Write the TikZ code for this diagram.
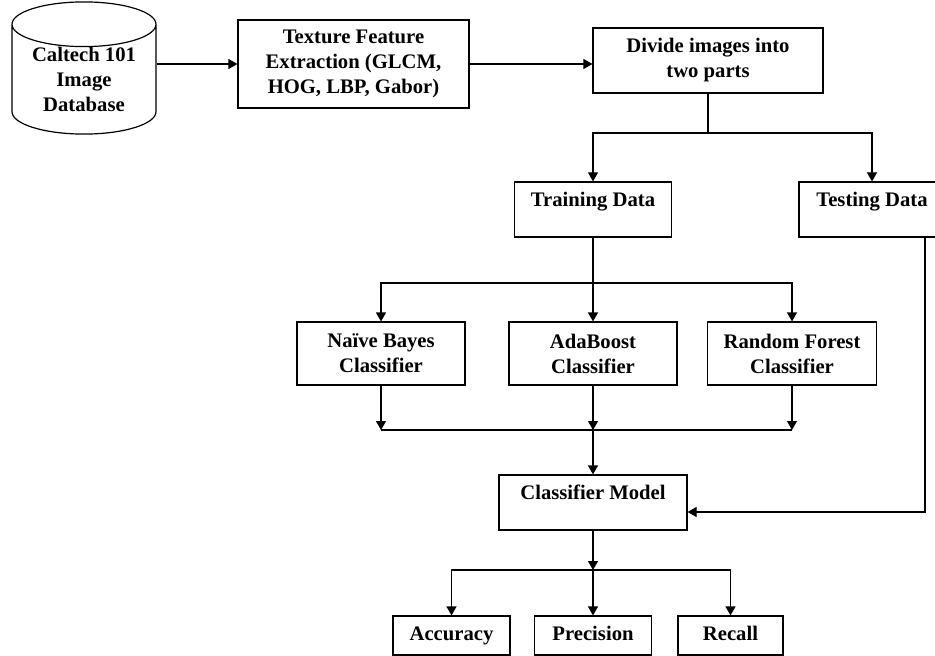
\documentclass[tikz,border=0pt]{standalone}
\usepackage{fontspec}
\setmainfont{Liberation Serif}
\usetikzlibrary{shapes.geometric,arrows.meta,calc}

\begin{document}
\begin{tikzpicture}[x=0.75pt,y=-0.75pt,font=\fontsize{15.5}{18.75}\selectfont\bfseries]
\tikzstyle{db} = [cylinder, shape border rotate=90, aspect=0.43, draw, line width=0.9pt, minimum width=108pt, minimum height=96pt, align=center, inner sep=0pt]
\tikzstyle{box} = [rectangle, draw, line width=0.9pt, align=center, inner sep=0pt]
\tikzstyle{topbox} = [box, text height=18.5pt, text depth=22.75pt]
\tikzstyle{smallbox} = [box, text height=11pt, text depth=3.5pt, minimum height=29.25pt]
\tikzstyle{line} = [line width=0.9pt]
\tikzstyle{arrow} = [line, -{Triangle[length=6.75pt,width=7.5pt]}]

\useasboundingbox (0,0) rectangle (935,656);
\clip (0,0) rectangle (935,656);

\node (db) [db, anchor=shape center] at (84,68) {Caltech 101\\Image\\Database};
\node (feat) [box, minimum width=173.25pt, minimum height=66pt] at (353.5,64) {Texture Feature\\Extraction (GLCM,\\HOG, LBP, Gabor)};
\node (divide) [box, minimum width=172.5pt, minimum height=48.75pt] at (708,60.5) {Divide images into\\two parts};
\node (train) [topbox, minimum width=117.75pt] at (593,209.5) {Training Data};
\node (test) [topbox, minimum width=109.5pt] at (872,209.5) {Testing Data};
\node (nb) [box, minimum width=126pt, minimum height=47.25pt] at (381,353.5) {Naïve Bayes\\Classifier};
\node (ada) [box, minimum width=126pt, minimum height=47.25pt] at (593,353.5) {AdaBoost\\Classifier};
\node (rf) [box, minimum width=126.75pt, minimum height=47.25pt] at (792,353.5) {Random Forest\\Classifier};
\node (cm) [topbox, minimum width=141pt] at (593,502.5) {Classifier Model};
\node (acc) [smallbox, minimum width=87.75pt] at (451.5,635.5) {Accuracy};
\node (prec) [smallbox, minimum width=87.75pt] at (593,635.5) {Precision};
\node (rec) [smallbox, minimum width=78.75pt] at (730.5,635.5) {Recall};

\coordinate (s1) at (divide.south |- 0,133);
\coordinate (s2) at (train.south |- 0,283);
\coordinate (m) at (ada.south |- 0,430);
\coordinate (s3) at (cm.south |- 0,570);

\draw [arrow] (db.east |- feat.west) -- (feat.west);
\draw [arrow] (feat.east) -- (feat.east -| divide.west);
\draw [line] (divide.south) -- (s1);
\draw [arrow] (s1) -| (train.north);
\draw [arrow] (s1) -| (test.north);
\draw [line] (train.south) -- (s2);
\draw [arrow] (s2) -| (nb.north);
\draw [arrow] (s2) -- (ada.north);
\draw [arrow] (s2) -| (rf.north);
\draw [arrow] (nb.south) -- (nb.south |- m);
\draw [arrow] (ada.south) -- (m);
\draw [arrow] (rf.south) -- (rf.south |- m);
\draw [line] (nb.south |- m) -- (rf.south |- m);
\draw [arrow] (m) -- (cm.north);
\draw [arrow] ($(test.south)+(53,0)$) |- ($(cm.east)+(0,9.5)$);
\draw [arrow] (cm.south) -- (s3);
\draw [arrow] (s3) -| (acc.north);
\draw [arrow] (s3) -- (prec.north);
\draw [arrow] (s3) -| (rec.north);

\end{tikzpicture}
\end{document}
